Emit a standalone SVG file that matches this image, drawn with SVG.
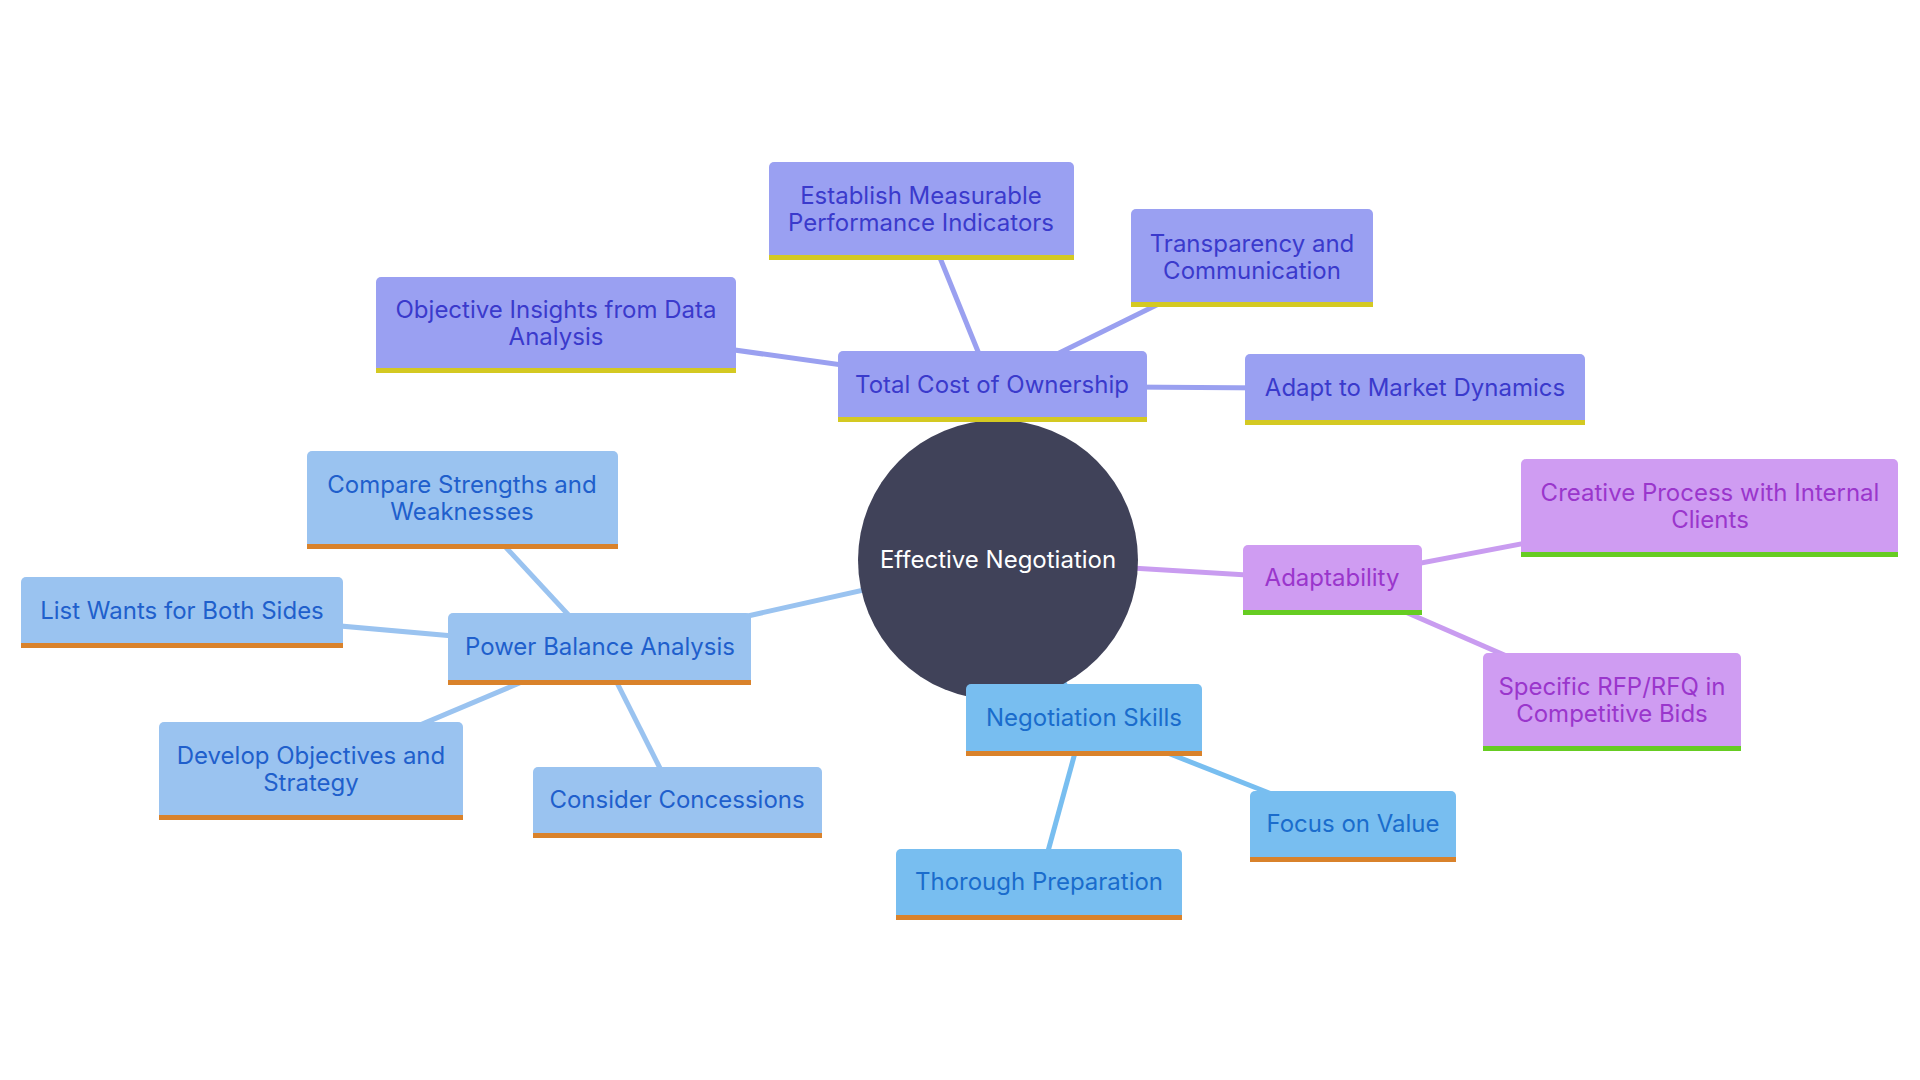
<svg xmlns="http://www.w3.org/2000/svg" width="1920" height="1080" viewBox="0 0 1920 1080">
<style>
text{font-family:Inter,"Noto Sans","Liberation Sans",sans-serif;font-size:24px;text-anchor:middle;dominant-baseline:central}
.e{stroke-width:5;fill:none}
.t rect.f{fill:#9aa0f2}.t text{fill:#3a3acc}.t rect.b{fill:#d4c922}
.a rect.f{fill:#cf9cf2}.a text{fill:#9a36cc}.a rect.b{fill:#66cc22}
.p rect.f{fill:#9ac3f0}.p text{fill:#1f5fcc}.p rect.b{fill:#d9822b}
.n rect.f{fill:#78bef0}.n text{fill:#1a6ccc}.n rect.b{fill:#d9822b}
</style>
<rect width="1920" height="1080" fill="#fff"/>
<g id="connectors">
<g stroke="#9aa0f0" class="e">
<line x1="998" y1="560" x2="992" y2="386"/><line x1="992" y1="386" x2="921" y2="211"/><line x1="992" y1="386" x2="1252" y2="258"/><line x1="992" y1="386" x2="556" y2="325"/><line x1="992" y1="386" x2="1415" y2="389"/>
</g>
<g stroke="#c99cf0" class="e">
<line x1="998" y1="560" x2="1332" y2="580"/><line x1="1332" y1="580" x2="1710" y2="508"/><line x1="1332" y1="580" x2="1612" y2="702"/>
</g>
<g stroke="#9ac3f0" class="e">
<line x1="998" y1="560" x2="600" y2="649"/><line x1="600" y1="649" x2="462" y2="500"/><line x1="600" y1="649" x2="182" y2="612"/><line x1="600" y1="649" x2="311" y2="771"/><line x1="600" y1="649" x2="677" y2="802"/>
</g>
<g stroke="#78bef0" class="e">
<line x1="998" y1="560" x2="1084" y2="720"/><line x1="1084" y1="720" x2="1353" y2="826"/><line x1="1084" y1="720" x2="1039" y2="884"/>
</g>
</g>
<g id="center"><circle cx="998" cy="560" r="140" fill="#404259"/><text x="998" y="559" fill="#fff">Effective Negotiation</text></g>
<g id="tco" class="t"><rect class="f" x="838" y="351" width="309" height="71" rx="5"/><rect class="b" x="838" y="417" width="309" height="5"/><text x="992" y="384">Total Cost of Ownership</text></g>
<g id="est" class="t"><rect class="f" x="769" y="162" width="305" height="98" rx="5"/><rect class="b" x="769" y="255" width="305" height="5"/><text x="921" y="195">Establish Measurable</text><text x="921" y="222">Performance Indicators</text></g>
<g id="trans" class="t"><rect class="f" x="1131" y="209" width="242" height="98" rx="5"/><rect class="b" x="1131" y="302" width="242" height="5"/><text x="1252" y="243">Transparency and</text><text x="1252" y="270">Communication</text></g>
<g id="obj" class="t"><rect class="f" x="376" y="277" width="360" height="96" rx="5"/><rect class="b" x="376" y="368" width="360" height="5"/><text x="556" y="309">Objective Insights from Data</text><text x="556" y="336">Analysis</text></g>
<g id="adapt" class="t"><rect class="f" x="1245" y="354" width="340" height="71" rx="5"/><rect class="b" x="1245" y="420" width="340" height="5"/><text x="1415" y="387">Adapt to Market Dynamics</text></g>
<g id="adaptability" class="a"><rect class="f" x="1243" y="545" width="179" height="70" rx="5"/><rect class="b" x="1243" y="610" width="179" height="5"/><text x="1332" y="577">Adaptability</text></g>
<g id="creative" class="a"><rect class="f" x="1521" y="459" width="377" height="98" rx="5"/><rect class="b" x="1521" y="552" width="377" height="5"/><text x="1710" y="492">Creative Process with Internal</text><text x="1710" y="519">Clients</text></g>
<g id="specific" class="a"><rect class="f" x="1483" y="653" width="258" height="98" rx="5"/><rect class="b" x="1483" y="746" width="258" height="5"/><text x="1612" y="686">Specific RFP/RFQ in</text><text x="1612" y="713">Competitive Bids</text></g>
<g id="ns" class="n"><rect class="f" x="966" y="684" width="236" height="72" rx="5"/><rect class="b" x="966" y="751" width="236" height="5"/><text x="1084" y="717">Negotiation Skills</text></g>
<g id="focus" class="n"><rect class="f" x="1250" y="791" width="206" height="71" rx="5"/><rect class="b" x="1250" y="857" width="206" height="5"/><text x="1353" y="823">Focus on Value</text></g>
<g id="thor" class="n"><rect class="f" x="896" y="849" width="286" height="71" rx="5"/><rect class="b" x="896" y="915" width="286" height="5"/><text x="1039" y="881">Thorough Preparation</text></g>
<g id="pb" class="p"><rect class="f" x="448" y="613" width="303" height="72" rx="5"/><rect class="b" x="448" y="680" width="303" height="5"/><text x="600" y="646">Power Balance Analysis</text></g>
<g id="compare" class="p"><rect class="f" x="307" y="451" width="311" height="98" rx="5"/><rect class="b" x="307" y="544" width="311" height="5"/><text x="462" y="484">Compare Strengths and</text><text x="462" y="511">Weaknesses</text></g>
<g id="list" class="p"><rect class="f" x="21" y="577" width="322" height="71" rx="5"/><rect class="b" x="21" y="643" width="322" height="5"/><text x="182" y="610">List Wants for Both Sides</text></g>
<g id="develop" class="p"><rect class="f" x="159" y="722" width="304" height="98" rx="5"/><rect class="b" x="159" y="815" width="304" height="5"/><text x="311" y="755">Develop Objectives and</text><text x="311" y="782">Strategy</text></g>
<g id="consider" class="p"><rect class="f" x="533" y="767" width="289" height="71" rx="5"/><rect class="b" x="533" y="833" width="289" height="5"/><text x="677" y="799">Consider Concessions</text></g>
</svg>
